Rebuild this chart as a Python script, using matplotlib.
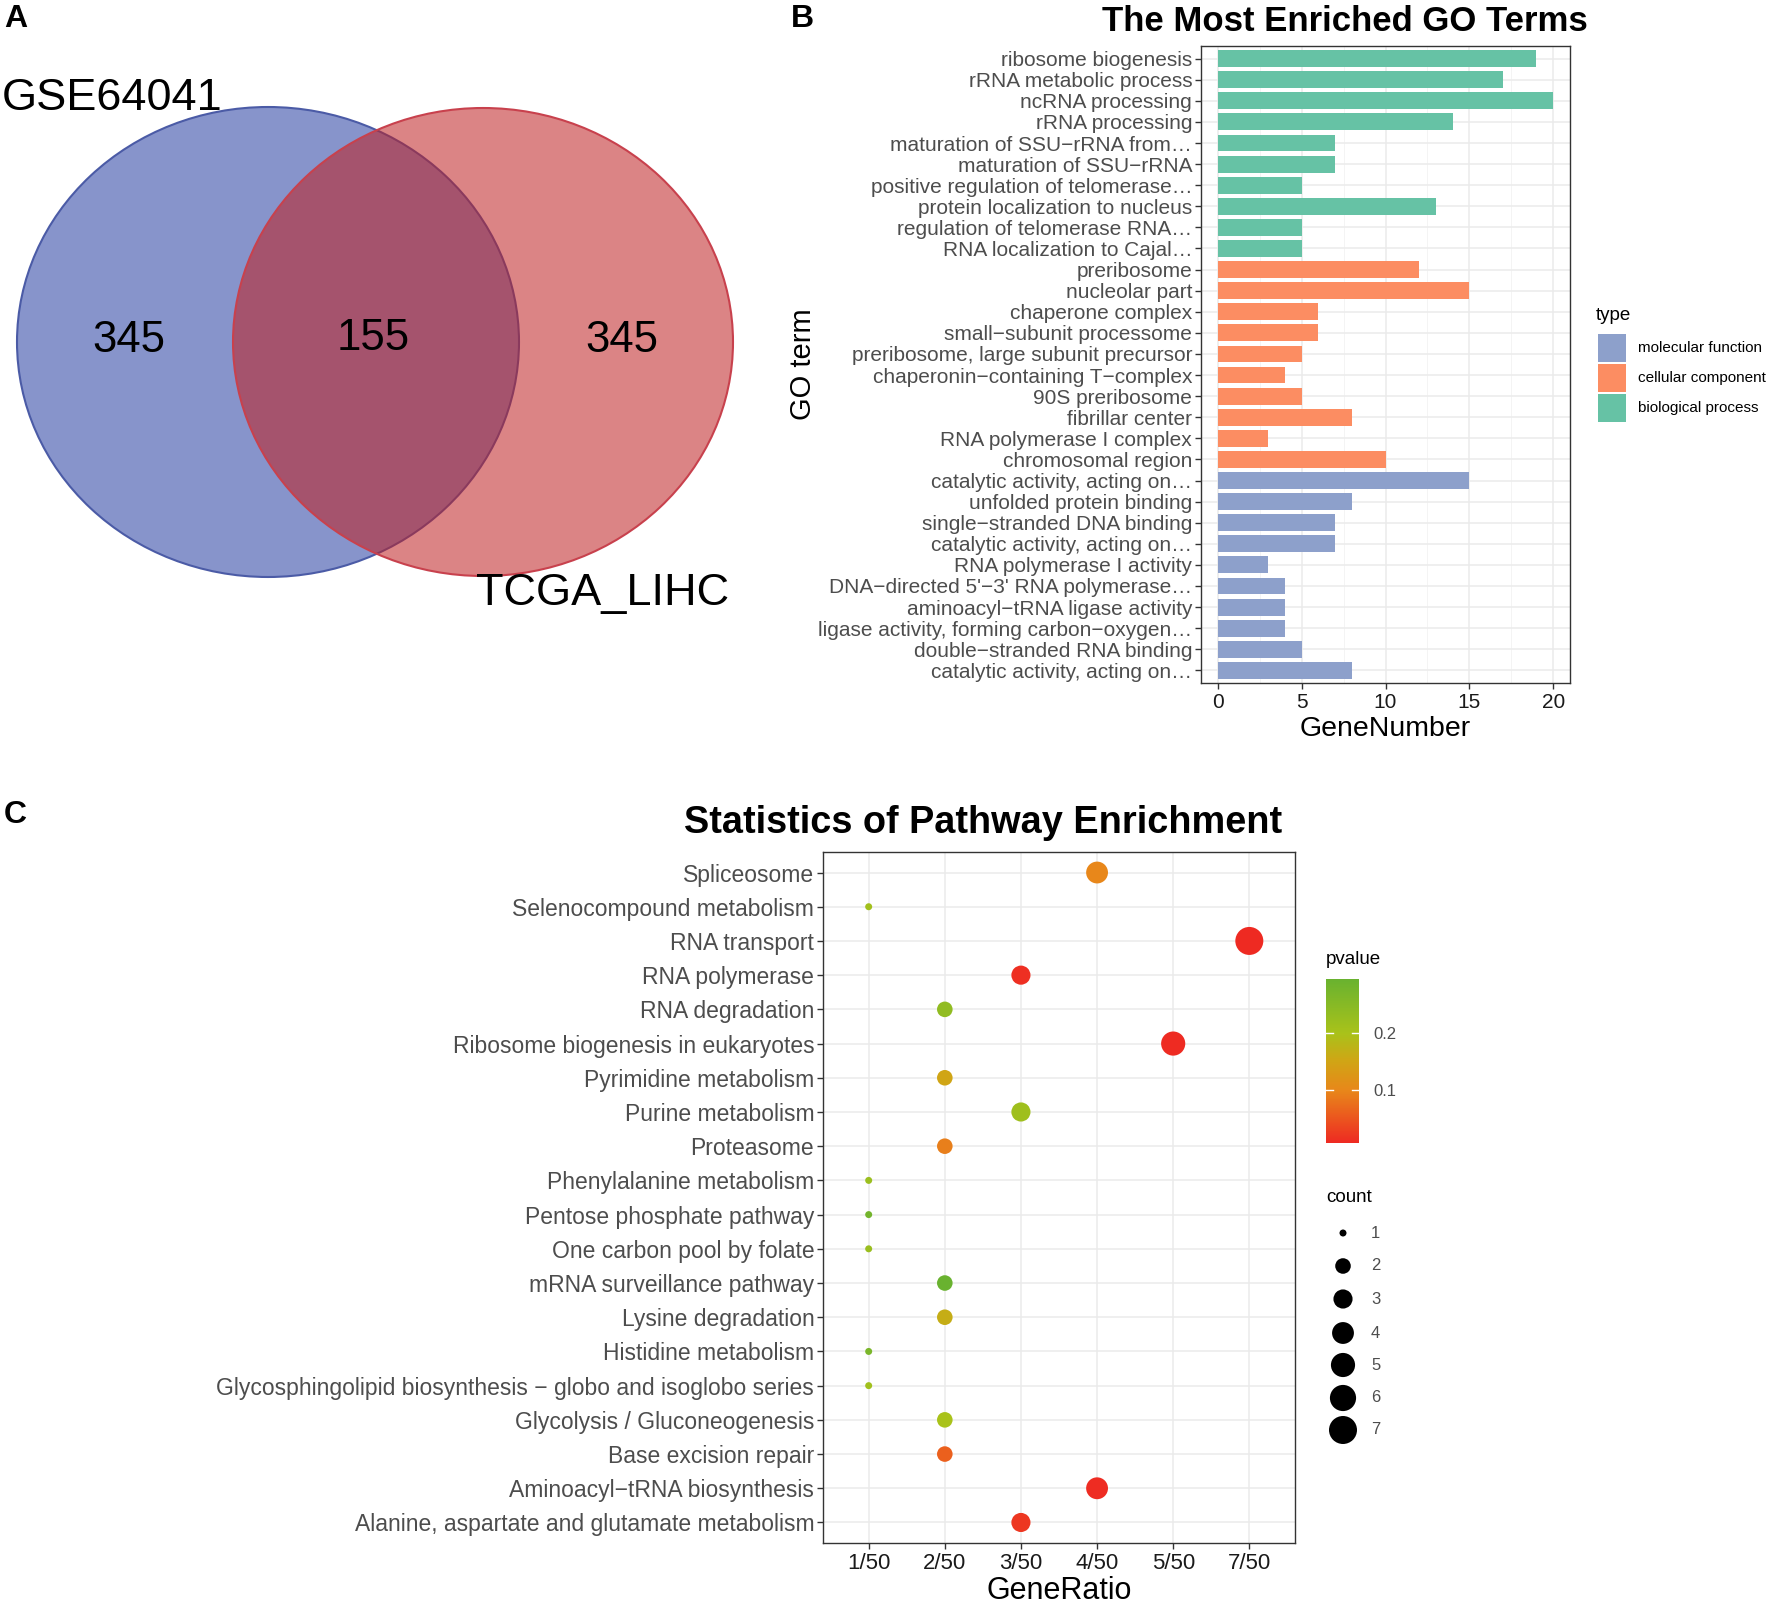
import numpy as np
import matplotlib
matplotlib.use("Agg")
import matplotlib.pyplot as plt
from matplotlib.patches import Ellipse, Rectangle
from matplotlib.colors import LinearSegmentedColormap, Normalize
from matplotlib.ticker import MultipleLocator

plt.rcParams['font.family'] = ['Liberation Sans', 'DejaVu Sans']

# ---------------- data ----------------
venn_sets = ["GSE64041", "TCGA_LIHC"]
venn_counts = [345, 155, 345]   # left only, overlap, right only

go_terms = [
    "ribosome biogenesis", "rRNA metabolic process", "ncRNA processing", "rRNA processing",
    "maturation of SSU\u2212rRNA from\u2026", "maturation of SSU\u2212rRNA",
    "positive regulation of telomerase\u2026", "protein localization to nucleus",
    "regulation of telomerase RNA\u2026", "RNA localization to Cajal\u2026",
    "preribosome", "nucleolar part", "chaperone complex", "small\u2212subunit processome",
    "preribosome, large subunit precursor", "chaperonin\u2212containing T\u2212complex",
    "90S preribosome", "fibrillar center", "RNA polymerase I complex", "chromosomal region",
    "catalytic activity, acting on\u2026", "unfolded protein binding", "single\u2212stranded DNA binding",
    "catalytic activity, acting on\u2026", "RNA polymerase I activity",
    "DNA\u2212directed 5'\u22123' RNA polymerase\u2026", "aminoacyl\u2212tRNA ligase activity",
    "ligase activity, forming carbon\u2212oxygen\u2026", "double\u2212stranded RNA binding",
    "catalytic activity, acting on\u2026",
]
go_counts = [19, 17, 20, 14, 7, 7, 5, 13, 5, 5,
             12, 15, 6, 6, 5, 4, 5, 8, 3, 10,
             15, 8, 7, 7, 3, 4, 4, 4, 5, 8]
go_types = (["biological process"] * 10 + ["cellular component"] * 10 +
            ["molecular function"] * 10)
type_order = ["molecular function", "cellular component", "biological process"]
type_colors = {"molecular function": "#8DA0CB", "cellular component": "#FC8D62",
               "biological process": "#66C2A5"}

pathways = [
    "Spliceosome", "Selenocompound metabolism", "RNA transport", "RNA polymerase",
    "RNA degradation", "Ribosome biogenesis in eukaryotes", "Pyrimidine metabolism",
    "Purine metabolism", "Proteasome", "Phenylalanine metabolism", "Pentose phosphate pathway",
    "One carbon pool by folate", "mRNA surveillance pathway", "Lysine degradation",
    "Histidine metabolism", "Glycosphingolipid biosynthesis \u2212 globo and isoglobo series",
    "Glycolysis / Gluconeogenesis", "Base excision repair", "Aminoacyl\u2212tRNA biosynthesis",
    "Alanine, aspartate and glutamate metabolism",
]
ratio_levels = ["1/50", "2/50", "3/50", "4/50", "5/50", "7/50"]
path_ratio = ["4/50", "1/50", "7/50", "3/50", "2/50", "5/50", "2/50", "3/50", "2/50", "1/50",
              "1/50", "1/50", "2/50", "2/50", "1/50", "1/50", "2/50", "2/50", "4/50", "3/50"]
path_count = [4, 1, 7, 3, 2, 5, 2, 3, 2, 1, 1, 1, 2, 2, 1, 1, 2, 2, 4, 3]
path_pvalue = [0.100, 0.210, 0.007, 0.012, 0.235, 0.009, 0.150, 0.215, 0.092, 0.220,
               0.280, 0.222, 0.295, 0.165, 0.270, 0.212, 0.200, 0.060, 0.010, 0.020]
count_levels = [1, 2, 3, 4, 5, 6, 7]
pvalue_ticks = [0.1, 0.2]

# ---------------- figure ----------------
W, H = 1772, 1604
fig = plt.figure(figsize=(W / 100, H / 100), dpi=100)


def px_axes(l, t, r, b):
    return fig.add_axes([l / W, 1 - b / H, (r - l) / W, (b - t) / H])


GREY30 = "#4D4D4D"
BORDER = "#333333"

# panel letters
for lab, x, y in [("A", 4, 19), ("B", 791, 19), ("C", 4, 815)]:
    fig.text(x / W, 1 - y / H, lab, fontsize=23, fontweight="bold", va="center", ha="left")

# ---------------- Panel A: Venn ----------------
axA = px_axes(0, 0, 760, 700)
axA.set_xlim(0, 760)
axA.set_ylim(700, 0)
axA.axis("off")
blue = Ellipse((268, 342), 502, 470, facecolor="#8794CB", edgecolor="#4B5BA6", lw=1.5)
red = Ellipse((483, 342), 500, 468, facecolor=(0.75, 0.12, 0.13, 0.55), edgecolor="#C8414D", lw=1.5)
axA.add_patch(blue)
axA.add_patch(red)
axA.text(129, 340, str(venn_counts[0]), fontsize=31.5, ha="center", va="center")
axA.text(373, 338, str(venn_counts[1]), fontsize=31.5, ha="center", va="center")
axA.text(622, 340, str(venn_counts[2]), fontsize=31.5, ha="center", va="center")
axA.text(2, 98, venn_sets[0], fontsize=32.5, ha="left", va="center")
axA.text(476, 594, venn_sets[1], fontsize=32.5, ha="left", va="center")

# ---------------- Panel B: GO bars ----------------
axB = px_axes(1201, 46, 1570, 683)
n = len(go_terms)
ypos = np.arange(n)
axB.barh(ypos, go_counts, height=0.8, color=[type_colors[t] for t in go_types], zorder=3)
axB.set_ylim(n - 1 + 0.6, -0.6)
axB.set_xlim(-1, 21)
axB.set_yticks(ypos)
axB.set_yticklabels(go_terms)
axB.set_xticks([0, 5, 10, 15, 20])
axB.xaxis.set_minor_locator(MultipleLocator(2.5))
axB.grid(True, which="major", color="#EBEBEB", lw=1.1, zorder=0)
axB.grid(True, which="minor", axis="x", color="#F2F2F2", lw=0.6, zorder=0)
axB.set_axisbelow(True)
axB.tick_params(axis="y", labelsize=15, labelcolor=GREY30, length=4.3, width=1, color=BORDER, pad=2)
axB.tick_params(axis="x", labelsize=15, labelcolor="#1A1A1A", length=4.3, width=1, color=BORDER, pad=3)
axB.tick_params(which="minor", length=0)
for s in axB.spines.values():
    s.set_color(BORDER)
    s.set_linewidth(1.0)
axB.set_xlabel("GeneNumber", fontsize=20.5, labelpad=3)
axB.set_ylabel("GO term", fontsize=21, labelpad=1)
axB.set_title("The Most Enriched GO Terms", fontsize=25, fontweight="bold", x=0.39, y=1.0, pad=11)

# legend for type (drawn in pixel-space overlay)
axLB = px_axes(1580, 290, 1772, 440)
axLB.set_xlim(1580, 1772)
axLB.set_ylim(440, 290)
axLB.axis("off")
axLB.text(1596, 315, "type", fontsize=13.5, ha="left", va="center")
for i, t in enumerate(type_order):
    yc = 348 + 30 * i
    axLB.add_patch(Rectangle((1598, yc - 14), 28, 28, facecolor=type_colors[t], edgecolor="none"))
    axLB.text(1638, yc, t, fontsize=11, ha="left", va="center")

# ---------------- Panel C: pathway dots ----------------
axC = px_axes(823, 852, 1295, 1543)
cmap = LinearSegmentedColormap.from_list(
    "pv", [(0.0, "#EE2A22"), (0.32, "#E8871A"), (0.5, "#D0A515"), (0.67, "#A9C21A"), (1.0, "#69B22F")])
norm = Normalize(vmin=min(path_pvalue), vmax=max(path_pvalue))

D_MIN, D_MAX = 7.0, 28.0   # marker diameter range in pixels (area scale)


def size_of(c):
    frac = (c - min(count_levels)) / (max(count_levels) - min(count_levels))
    d_px = D_MIN + (D_MAX - D_MIN) * np.sqrt(frac)
    return (d_px * 0.72) ** 2


xs = [ratio_levels.index(r) for r in path_ratio]
ys = np.arange(len(pathways))
axC.scatter(xs, ys, s=[size_of(c) for c in path_count], c=path_pvalue, cmap=cmap, norm=norm,
            edgecolors="none", zorder=3)
axC.set_xlim(-0.6, len(ratio_levels) - 1 + 0.6)
axC.set_ylim(len(pathways) - 1 + 0.6, -0.6)
axC.set_xticks(range(len(ratio_levels)))
axC.set_xticklabels(ratio_levels)
axC.set_yticks(ys)
axC.set_yticklabels(pathways)
axC.grid(True, color="#EBEBEB", lw=1.1, zorder=0)
axC.set_axisbelow(True)
axC.tick_params(axis="y", labelsize=16.5, labelcolor=GREY30, length=4.3, width=1, color=BORDER, pad=2)
axC.tick_params(axis="x", labelsize=16, labelcolor="#1A1A1A", length=4.3, width=1, color=BORDER, pad=3)
for s in axC.spines.values():
    s.set_color(BORDER)
    s.set_linewidth(1.0)
axC.set_xlabel("GeneRatio", fontsize=22, labelpad=1)
axC.set_title("Statistics of Pathway Enrichment", fontsize=27.3, fontweight="bold", x=0.34, pad=14)

# colorbar legend (pvalue)
cax = px_axes(1326, 979, 1359, 1143)
sm = matplotlib.cm.ScalarMappable(norm=norm, cmap=cmap)
cb = fig.colorbar(sm, cax=cax, ticks=pvalue_ticks)
cb.outline.set_visible(False)
cb.ax.set_yticklabels([str(v) for v in pvalue_ticks])
cb.ax.tick_params(labelsize=12, labelcolor=GREY30, length=0, pad=10)
for v in pvalue_ticks:
    cb.ax.plot([0, 0.2], [v, v], color="white", lw=1, transform=cb.ax.get_yaxis_transform())
    cb.ax.plot([0.8, 1.0], [v, v], color="white", lw=1, transform=cb.ax.get_yaxis_transform())
fig.text(1326 / W, 1 - 959 / H, "pvalue", fontsize=13.5, ha="left", va="center")

# count legend
axLC = px_axes(1300, 1180, 1460, 1460)
axLC.set_xlim(1300, 1460)
axLC.set_ylim(1460, 1180)
axLC.axis("off")
axLC.text(1326, 1197, "count", fontsize=13.5, ha="left", va="center")
leg_y = [1233, 1266, 1299, 1333, 1365, 1398, 1430]
axLC.scatter([1343] * len(count_levels), leg_y, s=[size_of(c) for c in count_levels],
             color="black", edgecolors="none")
for c, yv in zip(count_levels, leg_y):
    axLC.text(1371, yv, str(c), fontsize=12, color=GREY30, ha="left", va="center")

fig.savefig("out.png", dpi=100)
